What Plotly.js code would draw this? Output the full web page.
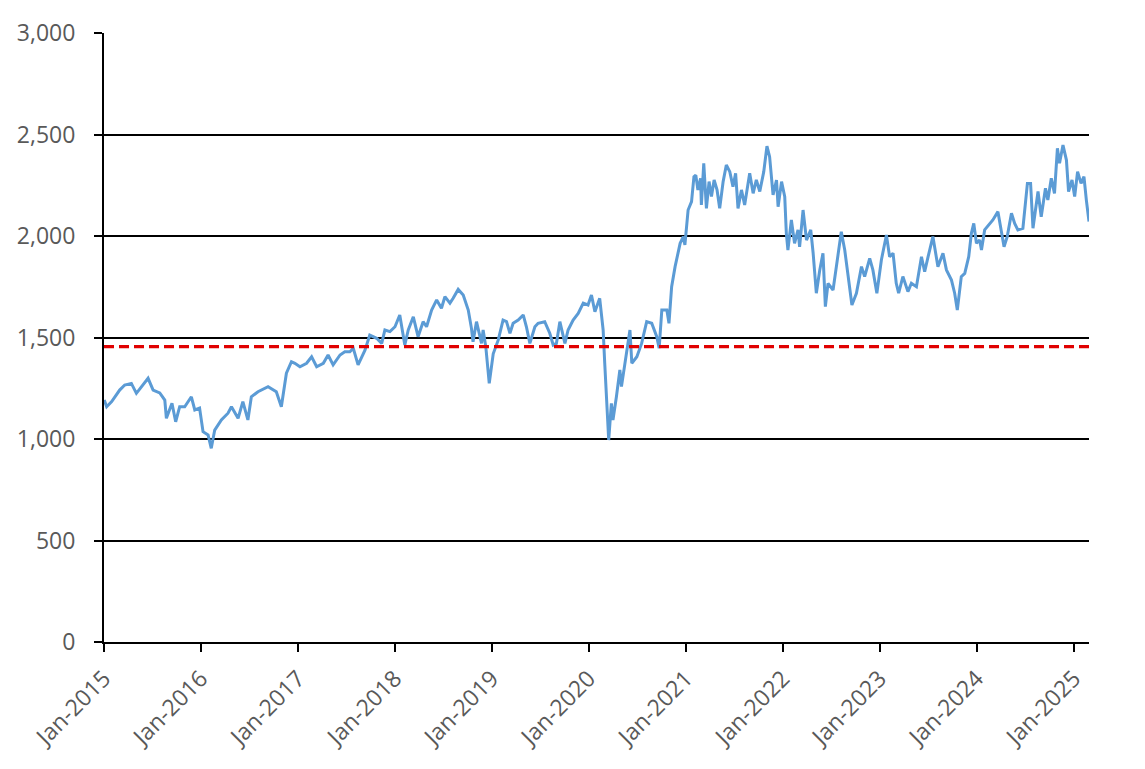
<!DOCTYPE html>
<html>
<head>
<meta charset="utf-8">
<script src="https://cdn.plot.ly/plotly-3.0.1.min.js"></script>
<style>
  html, body { margin: 0; padding: 0; background: #ffffff; }
  #chart { width: 1145px; height: 769px; }
</style>
</head>
<body>
<div id="chart"></div>
<script>
// Index level (roughly every two to three weeks)
const dates = [
    '2015-01-02', '2015-01-11', '2015-01-30', '2015-03-01', '2015-03-20', '2015-04-14',
    '2015-05-03', '2015-05-22', '2015-06-16', '2015-07-05', '2015-07-30', '2015-08-18',
    '2015-08-24', '2015-09-14', '2015-09-28', '2015-10-13', '2015-11-01', '2015-11-26',
    '2015-12-09', '2015-12-27', '2016-01-09', '2016-01-28', '2016-02-09', '2016-02-22',
    '2016-03-18', '2016-04-12', '2016-04-25', '2016-05-20', '2016-06-07', '2016-06-26',
    '2016-07-09', '2016-08-03', '2016-09-10', '2016-10-11', '2016-10-30', '2016-11-18',
    '2016-12-07', '2016-12-20', '2017-01-08', '2017-02-02', '2017-02-21', '2017-03-12',
    '2017-04-06', '2017-04-24', '2017-05-13', '2017-06-08', '2017-06-26', '2017-07-15',
    '2017-07-28', '2017-08-15', '2017-09-10', '2017-09-28', '2017-10-24', '2017-11-12',
    '2017-11-24', '2017-12-13', '2018-01-01', '2018-01-19', '2018-02-07', '2018-02-20',
    '2018-03-11', '2018-03-29', '2018-04-17', '2018-04-30', '2018-05-19', '2018-06-07',
    '2018-06-25', '2018-07-08', '2018-07-27', '2018-08-08', '2018-08-27', '2018-09-15',
    '2018-10-04', '2018-10-16', '2018-10-22', '2018-11-04', '2018-11-23', '2018-11-29',
    '2018-12-09', '2018-12-22', '2019-01-06', '2019-01-25', '2019-02-12', '2019-02-25',
    '2019-03-10', '2019-03-22', '2019-04-10', '2019-04-29', '2019-05-11', '2019-05-24',
    '2019-06-12', '2019-06-24', '2019-07-19', '2019-08-07', '2019-08-20', '2019-09-01',
    '2019-09-14', '2019-10-03', '2019-10-15', '2019-11-03', '2019-11-22', '2019-12-11',
    '2019-12-29', '2020-01-11', '2020-01-24', '2020-02-11', '2020-02-24', '2020-03-01',
    '2020-03-08', '2020-03-16', '2020-03-26', '2020-04-01', '2020-04-14', '2020-04-27',
    '2020-05-03', '2020-05-16', '2020-06-04', '2020-06-11', '2020-06-30', '2020-07-18',
    '2020-08-06', '2020-08-25', '2020-09-13', '2020-09-22', '2020-10-02', '2020-10-21',
    '2020-10-29', '2020-11-08', '2020-11-21', '2020-12-10', '2020-12-22', '2020-12-28',
    '2021-01-09', '2021-01-22', '2021-01-31', '2021-02-07', '2021-02-15', '2021-02-25',
    '2021-02-28', '2021-03-09', '2021-03-19', '2021-03-29', '2021-04-07', '2021-04-17',
    '2021-04-28', '2021-05-08', '2021-05-21', '2021-06-02', '2021-06-15', '2021-06-27',
    '2021-07-07', '2021-07-16', '2021-07-29', '2021-08-10', '2021-08-29', '2021-09-11',
    '2021-09-23', '2021-10-06', '2021-10-21', '2021-11-02', '2021-11-12', '2021-11-25',
    '2021-12-08', '2021-12-14', '2021-12-27', '2022-01-08', '2022-01-14', '2022-01-20',
    '2022-02-02', '2022-02-14', '2022-02-27', '2022-03-05', '2022-03-18', '2022-03-31',
    '2022-04-16', '2022-04-25', '2022-05-07', '2022-05-20', '2022-06-01', '2022-06-10',
    '2022-06-20', '2022-07-09', '2022-07-22', '2022-08-09', '2022-08-22', '2022-09-03',
    '2022-09-18', '2022-10-05', '2022-10-24', '2022-11-05', '2022-11-24', '2022-12-06',
    '2022-12-21', '2023-01-07', '2023-01-26', '2023-02-07', '2023-02-20', '2023-03-04',
    '2023-03-13', '2023-03-29', '2023-04-17', '2023-04-30', '2023-05-19', '2023-06-07',
    '2023-06-19', '2023-07-02', '2023-07-20', '2023-08-08', '2023-08-27', '2023-09-09',
    '2023-09-28', '2023-10-10', '2023-10-20', '2023-11-04', '2023-11-17', '2023-12-02',
    '2023-12-12', '2023-12-21', '2023-12-31', '2024-01-12', '2024-01-19', '2024-01-31',
    '2024-02-19', '2024-03-02', '2024-03-21', '2024-03-31', '2024-04-13', '2024-04-25',
    '2024-05-11', '2024-05-23', '2024-06-04', '2024-06-23', '2024-07-10', '2024-07-22',
    '2024-07-31', '2024-08-19', '2024-08-31', '2024-09-16', '2024-09-25', '2024-10-08',
    '2024-10-20', '2024-10-31', '2024-11-08', '2024-11-21', '2024-12-04', '2024-12-12',
    '2024-12-25', '2025-01-04', '2025-01-15', '2025-01-28', '2025-02-08', '2025-02-17',
    '2025-02-27'
];

const values = [
    1192, 1159, 1184, 1241, 1266, 1274,
    1225, 1258, 1299, 1241, 1227, 1192,
    1102, 1176, 1085, 1159, 1159, 1208,
    1143, 1152, 1036, 1020, 954, 1044,
    1094, 1127, 1159, 1102, 1184, 1094,
    1208, 1233, 1258, 1233, 1159, 1324,
    1381, 1373, 1356, 1373, 1405, 1356,
    1373, 1414, 1365, 1414, 1430, 1430,
    1447, 1365, 1438, 1512, 1496, 1471,
    1537, 1529, 1553, 1611, 1463, 1537,
    1602, 1504, 1578, 1553, 1635, 1685,
    1644, 1701, 1669, 1693, 1737, 1709,
    1635, 1545, 1479, 1578, 1471, 1537,
    1455, 1274, 1420, 1488, 1586, 1578,
    1521, 1570, 1586, 1611, 1553, 1471,
    1553, 1570, 1578, 1521, 1463, 1471,
    1578, 1471, 1537, 1586, 1619, 1669,
    1660, 1709, 1627, 1693, 1537, 1373,
    1176, 995, 1176, 1094, 1208, 1340,
    1258, 1373, 1537, 1373, 1405, 1471,
    1578, 1570, 1504, 1447, 1635, 1635,
    1570, 1750, 1849, 1964, 1997, 1956,
    2128, 2169, 2292, 2300, 2227, 2284,
    2153, 2358, 2136, 2268, 2194, 2276,
    2227, 2136, 2268, 2350, 2317, 2243,
    2309, 2136, 2227, 2153, 2309, 2210,
    2276, 2219, 2317, 2443, 2391, 2202,
    2276, 2144, 2268, 2194, 2013, 1931,
    2079, 1964, 2030, 1947, 2128, 1980,
    2030, 1915, 1718, 1833, 1915, 1652,
    1767, 1734, 1865, 2021, 1931, 1816,
    1660, 1718, 1849, 1800, 1890, 1833,
    1718, 1882, 2005, 1898, 1915, 1767,
    1718, 1800, 1726, 1767, 1750, 1898,
    1824, 1898, 1997, 1849, 1915, 1833,
    1783, 1718, 1635, 1800, 1816, 1898,
    2013, 2062, 1964, 1980, 1931, 2030,
    2062, 2079, 2120, 2046, 1947, 1997,
    2112, 2062, 2030, 2038, 2259, 2259,
    2038, 2219, 2095, 2235, 2177, 2284,
    2210, 2432, 2358, 2448, 2374, 2219,
    2276, 2194, 2317, 2259, 2292, 2177,
    2071
];

// Horizontal reference level (red dashed line)
const refLevel = 1455;
const refDates = ['2015-01-01', '2025-02-27'];

const yTicks = [0, 500, 1000, 1500, 2000, 2500, 3000];
const xTicks = ['2015-01-01', '2016-01-01', '2017-01-01', '2018-01-01', '2019-01-01', '2020-01-01',
                '2021-01-01', '2022-01-01', '2023-01-01', '2024-01-01', '2025-01-01'];
const xTickText = ['Jan-2015', 'Jan-2016', 'Jan-2017', 'Jan-2018', 'Jan-2019', 'Jan-2020',
                   'Jan-2021', 'Jan-2022', 'Jan-2023', 'Jan-2024', 'Jan-2025'];

const labelFont = { family: "'Open Sans', 'Noto Sans', sans-serif", size: 23, color: '#595959' };

const traces = [
    {
        x: dates,
        y: values,
        type: 'scatter',
        mode: 'lines',
        line: { color: '#5B9BD5', width: 3 },
        hoverinfo: 'x+y',
        showlegend: false
    },
    {
        x: refDates,
        y: refDates.map(() => refLevel),
        type: 'scatter',
        mode: 'lines',
        line: { color: '#E00000', width: 3.3, dash: '10px,5px' },
        hoverinfo: 'y',
        showlegend: false
    }
];

const layout = {
    width: 1145,
    height: 769,
    margin: { l: 104, r: 56, t: 33, b: 127 },
    paper_bgcolor: '#ffffff',
    plot_bgcolor: '#ffffff',
    font: labelFont,
    xaxis: {
        type: 'date',
        range: ['2015-01-01', '2025-02-27'],
        tickvals: xTicks,
        ticktext: xTickText,
        tickangle: -45,
        tickfont: labelFont,
        ticks: 'outside',
        ticklen: 8,
        tickwidth: 2,
        tickcolor: '#000000',
        showgrid: false,
        showline: true,
        linecolor: '#000000',
        linewidth: 2,
        zeroline: false,
        ticklabelstandoff: 4
    },
    yaxis: {
        range: [0, 3000],
        tickvals: yTicks,
        tickformat: ',d',
        tickfont: labelFont,
        ticks: 'outside',
        ticklen: 8,
        tickwidth: 2,
        tickcolor: '#000000',
        showgrid: true,
        gridcolor: '#000000',
        gridwidth: 2,
        showline: true,
        linecolor: '#000000',
        linewidth: 2,
        zeroline: false,
        ticklabelstandoff: 14
    },
    // right-hand frame line of the plot area
    yaxis2: {
        overlaying: 'y',
        side: 'right',
        range: [0, 3000],
        showline: true,
        linecolor: '#000000',
        linewidth: 2,
        showticklabels: false,
        ticks: '',
        showgrid: false,
        zeroline: false
    },
    showlegend: false
};

Plotly.newPlot('chart', traces, layout, { displayModeBar: false, staticPlot: true });
</script>
</body>
</html>
